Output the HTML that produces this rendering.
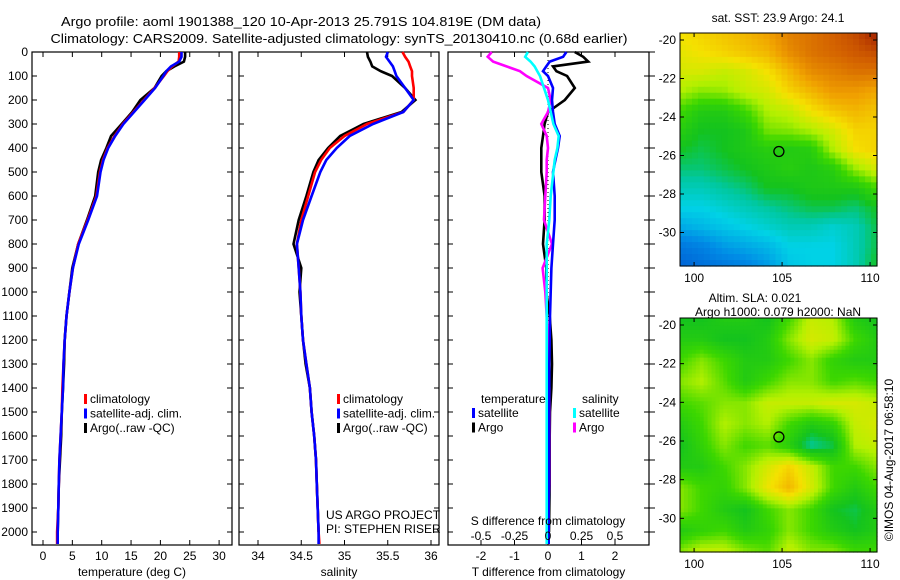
<!DOCTYPE html>
<html><head><meta charset="utf-8"><style>
html,body{margin:0;padding:0;background:#fff;}
svg{display:block;font-family:"Liberation Sans",sans-serif;}
text{font-size:12px;fill:#000;}
</style></head><body>
<svg id="chart" width="900" height="580" viewBox="0 0 900 580" xmlns="http://www.w3.org/2000/svg">
<text x="301" y="26" text-anchor="middle" textLength="480" lengthAdjust="spacingAndGlyphs" style="font-size:13px">Argo profile: aoml 1901388_120 10-Apr-2013 25.791S 104.819E (DM data)</text>
<text x="339" y="43" text-anchor="middle" textLength="577" lengthAdjust="spacingAndGlyphs" style="font-size:13px">Climatology: CARS2009. Satellite-adjusted climatology: synTS_20130410.nc (0.68d earlier)</text>
<g id="panels"></g>
<g id="maps"></g>
<text transform="translate(893,460) rotate(-90)" text-anchor="middle">©IMOS 04-Aug-2017 06:58:10</text>
</svg>
<script>
// ---- data ----
const depths = [0,20,40,60,80,100,150,200,250,300,350,400,450,500,600,700,800,900,1000,1100,1200,1300,1400,1500,1600,1700,1800,1900,2000,2050];
const tempClim = [23.2,23.2,23.1,22.0,21.2,20.6,19.0,17.2,15.4,13.6,12.2,11.0,10.2,9.7,9.1,7.6,6.0,5.1,4.5,4.0,3.7,3.5,3.3,3.2,3.0,2.8,2.7,2.6,2.4,2.4];
const tempSat = [23.6,23.6,23.2,21.8,21.0,20.5,19.1,17.3,15.5,13.7,12.3,11.1,10.3,9.8,9.2,7.7,6.1,5.1,4.5,4.0,3.7,3.5,3.4,3.2,3.0,2.8,2.7,2.6,2.5,2.5];
const tempArgo = [24.2,24.2,24.0,22.4,21.0,20.2,19.0,16.6,15.2,13.4,11.6,10.8,9.9,9.4,8.9,7.5,6.0,5.0,4.5,4.0,3.7,3.6,3.4,3.2,3.1,2.9,2.7,2.6,2.5,null];
const salClim = [35.67,35.7,35.74,35.76,35.78,35.78,35.8,35.8,35.68,35.26,35.0,34.83,34.73,34.66,34.58,34.5,34.45,34.47,34.49,34.5,34.52,34.56,34.6,34.62,34.65,34.67,34.68,34.69,34.7,34.71];
const salSat = [35.5,35.48,35.52,35.56,35.58,35.6,35.7,35.8,35.68,35.33,35.06,34.91,34.79,34.72,34.62,34.52,34.45,34.47,34.49,34.5,34.52,34.56,34.6,34.62,34.65,34.67,34.68,34.69,34.7,34.7];
const salArgo = [35.26,35.27,35.3,35.32,35.42,35.55,35.7,35.82,35.66,35.22,34.95,34.81,34.7,34.64,34.56,34.47,34.41,34.5,34.48,34.5,34.52,34.55,34.6,34.62,34.65,34.67,34.68,34.69,34.7,null];
const dTsat = [0.55,0.45,0.05,-0.05,-0.15,0.0,0.15,0.12,0.15,0.2,0.35,0.3,0.22,0.15,0.2,0.2,0.15,0.1,0.08,0.06,0.05,0.04,0.04,0.03,0.03,0.03,0.03,0.02,0.02,0.02];
const dTargo = [0.8,1.05,1.2,0.15,0.25,0.57,0.8,0.5,0.0,-0.1,-0.15,-0.2,-0.2,-0.2,-0.1,-0.1,-0.15,-0.05,-0.05,0.05,0.1,0.12,0.1,0.06,0.05,0.05,0.05,0.04,0.03,null];
const dSsat = [-0.15,-0.17,-0.13,-0.1,-0.08,-0.06,-0.03,0.0,0.02,0.04,0.08,0.07,0.05,0.04,0.02,0.01,-0.01,-0.01,-0.01,-0.01,-0.01,-0.01,-0.01,-0.01,-0.01,-0.01,-0.01,-0.01,-0.01,-0.01];
const dSargo = [-0.42,-0.45,-0.41,-0.31,-0.21,-0.16,0.0,0.02,0.0,-0.05,-0.01,0.0,-0.01,-0.01,-0.02,-0.03,0.03,-0.04,-0.02,-0.01,0.0,0.0,0.01,0.01,0.01,0.01,0.01,0.0,0.0,null];
const depthTicks = [0,100,200,300,400,500,600,700,800,900,1000,1100,1200,1300,1400,1500,1600,1700,1800,1900,2000];
const tempTicks = [0,5,10,15,20,25,30];
const salTicks = [34,34.5,35,35.5,36];
const dTTicks = [-2,-1,0,1,2];
const dSTicks = [-0.5,-0.25,0,0.25,0.5];
const dSTickLabels = ["-0.5","-0.25","0","0.25","0.5"];
const sstGrid = [
[.66,.68,.7,.72,.75,.8,.82,.85,.88,.95],
[.64,.66,.68,.7,.72,.78,.82,.84,.86,.88],
[.62,.62,.6,.62,.66,.72,.78,.8,.82,.82],
[.58,.55,.56,.6,.62,.68,.72,.76,.76,.74],
[.5,.45,.45,.5,.58,.6,.66,.7,.72,.7],
[.46,.42,.42,.44,.54,.55,.58,.62,.68,.68],
[.42,.4,.42,.44,.46,.45,.46,.58,.66,.68],
[.38,.38,.4,.42,.44,.46,.44,.46,.56,.62],
[.34,.34,.36,.38,.42,.42,.44,.44,.44,.5],
[.3,.3,.32,.34,.36,.38,.4,.4,.38,.42],
[.24,.26,.28,.3,.32,.34,.34,.32,.34,.4],
[.16,.18,.22,.24,.26,.3,.3,.3,.34,.4],
[.12,.14,.16,.18,.22,.28,.3,.3,.34,.42]];
const slaGrid = [
[.42,.42,.45,.45,.42,.5,.6,.58,.45,.42],
[.45,.45,.42,.42,.45,.55,.62,.6,.5,.45],
[.5,.55,.5,.45,.45,.5,.55,.48,.45,.45],
[.55,.58,.52,.45,.5,.55,.55,.5,.52,.5],
[.5,.52,.55,.55,.6,.6,.6,.62,.62,.6],
[.45,.5,.58,.55,.58,.5,.45,.48,.6,.62],
[.42,.48,.55,.5,.52,.46,.36,.4,.58,.6],
[.45,.45,.5,.55,.62,.68,.6,.5,.5,.55],
[.55,.5,.48,.55,.65,.72,.62,.5,.45,.5],
[.55,.5,.45,.42,.5,.55,.5,.42,.4,.45],
[.45,.48,.5,.45,.48,.55,.5,.45,.42,.45],
[.55,.6,.6,.55,.52,.6,.55,.55,.5,.5]];
const lonTicks = [100,105,110];
const latTicks = [-20,-22,-24,-26,-28,-30];
const argoLon = 104.819, argoLat = -25.791;

const NS = "http://www.w3.org/2000/svg";
function mk(tag, attrs, parent){const e=document.createElementNS(NS,tag);for(const k in attrs)e.setAttribute(k,attrs[k]);parent.appendChild(e);return e;}
const P = document.getElementById('panels');
const TOP=52, BOT=545;
const yD = d => TOP + d*0.24;

function panel(name, x0, x1, xs, ticks, tickLabels, xlabel){
  const g = mk('g',{},P);
  
  
  const r = mk('rect',{x:x0,y:TOP,width:x1-x0,height:BOT-TOP,fill:'none',stroke:'#000','stroke-width':1.2},g);
  
  
  ticks.forEach((t,i)=>{
    const x = xs(t);
    mk('line',{x1:x,x2:x,y1:TOP,y2:TOP+5,stroke:'#000'},g);
    mk('line',{x1:x,x2:x,y1:BOT,y2:BOT-5,stroke:'#000'},g);
    if(tickLabels){
      const tx = mk('text',{x:x,y:560,'text-anchor':'middle'},g);
      tx.textContent = tickLabels[i];
      
      
    }
  });
  depthTicks.forEach(d=>{
    mk('line',{x1:x0,x2:x0+5,y1:yD(d),y2:yD(d),stroke:'#000'},g);
    mk('line',{x1:x1,x2:x1-5,y1:yD(d),y2:yD(d),stroke:'#000'},g);
  });
  if(xlabel){
    const t = mk('text',{x:(x0+x1)/2,y:576,'text-anchor':'middle'},g);
    t.textContent = xlabel;
    
    
  }
  return g;
}
function line(g, vals, xs, color, name){
  let pts=[];
  vals.forEach((v,i)=>{ if(v!==null) pts.push(xs(v).toFixed(1)+','+yD(depths[i]).toFixed(1)); });
  const l = mk('polyline',{points:pts.join(' '),fill:'none',stroke:color,'stroke-width':2.6,'stroke-linejoin':'miter'},g);
  
  
}
function legend(g, x, y, items){
  items.forEach((it,i)=>{
    mk('rect',{x:x,y:y+i*14.5-9,width:3,height:10,fill:it[0]},g);
    const t = mk('text',{x:x+6,y:y+i*14.5},g);
    t.textContent = it[1];
    
    
  });
}
const xT = t => 43 + t*5.87;
const g1 = panel('temperature-panel',32,232,xT,tempTicks,tempTicks.map(String),'temperature (deg C)');
depthTicks.forEach(d=>{
  const t = mk('text',{x:28,y:yD(d)+4,'text-anchor':'end'},g1);
  t.textContent = d;
  
  
});
line(g1,tempArgo,xT,'#000','temp-argo-line');
line(g1,tempClim,xT,'#f00','temp-clim-line');
line(g1,tempSat,xT,'#00f','temp-sat-line');
legend(g1,84,403,[['#f00','climatology'],['#00f','satellite-adj. clim.'],['#000','Argo(..raw -QC)']]);
const xS = s => 258 + (s-34)*86.5;
const g2 = panel('salinity-panel',239,439,xS,salTicks,salTicks.map(String),'salinity');
line(g2,salArgo,xS,'#000','sal-argo-line');
line(g2,salClim,xS,'#f00','sal-clim-line');
line(g2,salSat,xS,'#00f','sal-sat-line');
legend(g2,337,403,[['#f00','climatology'],['#00f','satellite-adj. clim.'],['#000','Argo(..raw -QC)']]);
let t1 = mk('text',{x:326,y:519},g2); t1.textContent='US ARGO PROJECT';


let t2 = mk('text',{x:326,y:533},g2); t2.textContent='PI: STEPHEN RISER';


const xdT = v => 548 + v*33.5;
const xdS = v => 548 + v*134;
const g3 = panel('difference-panel',448,649,xdT,dTTicks,dTTicks.map(String),'T difference from climatology');
depthTicks.forEach(d=>{ mk('line',{x1:649,x2:655,y1:yD(d),y2:yD(d),stroke:'#000'},g3); });
mk('line',{x1:548,x2:548,y1:TOP,y2:BOT,stroke:'#000','stroke-dasharray':'1,3'},g3);
line(g3,dTargo,xdT,'#000','dT-argo-line');
line(g3,dSargo,xdS,'#f0f','dS-argo-line');
line(g3,dTsat,xdT,'#00f','dT-sat-line');
line(g3,dSsat,xdS,'#0ff','dS-sat-line');
let lt = mk('text',{x:481,y:403},g3); lt.textContent='temperature';


let ls = mk('text',{x:582,y:403},g3); ls.textContent='salinity';


legend(g3,472,417,[['#00f','satellite'],['#000','Argo']]);
legend(g3,573,417,[['#0ff','satellite'],['#f0f','Argo']]);
let sl = mk('text',{x:548,y:525,'text-anchor':'middle'},g3); sl.textContent='S difference from climatology';


dSTicks.forEach((v,i)=>{
  const t = mk('text',{x:xdS(v),y:540,'text-anchor':'middle'},g3);
  t.textContent = dSTickLabels[i];
  
  
});

const M = document.getElementById('maps');
const stops = [[0,[0,40,190]],[.2,[0,140,230]],[.3,[0,210,230]],[.36,[0,200,160]],[.42,[20,195,30]],[.5,[60,215,0]],[.58,[180,240,0]],[.66,[245,225,0]],[.75,[240,160,0]],[.85,[210,95,0]],[1,[140,0,0]]];
function cmap(v){
  v=Math.max(0,Math.min(1,v));
  for(let i=1;i<stops.length;i++){ if(v<=stops[i][0]){const a=stops[i-1],b=stops[i];const f=(v-a[0])/(b[0]-a[0]);
    return 'rgb('+a[1].map((c,k)=>Math.round(c+(b[1][k]-c)*f)).join(',')+')';}}
  return 'rgb(140,0,0)';
}
function interp(grid,fx,fy){
  const R=grid.length-1,C=grid[0].length-1;
  const x=fx*C,y=fy*R;const i=Math.min(Math.floor(y),R-1),j=Math.min(Math.floor(x),C-1);
  const u=x-j,w=y-i;
  return grid[i][j]*(1-u)*(1-w)+grid[i][j+1]*u*(1-w)+grid[i+1][j]*(1-u)*w+grid[i+1][j+1]*u*w;
}
function map(name, top, bot, grid, cell, titles){
  const g = mk('g',{},M);
  
  
  const x0=680,x1=877,W=x1-x0,H=bot-top;
  const nx=Math.ceil(W/cell), ny=Math.ceil(H/cell);
  for(let r=0;r<ny;r++)for(let c=0;c<nx;c++){
    const v=interp(grid,(c+0.5)/nx,(r+0.5)/ny);
    mk('rect',{x:x0+c*W/nx,y:top+r*H/ny,width:W/nx+0.6,height:H/ny+0.6,fill:cmap(v)},g);
  }
  const lonX = lon => x0 + (lon-99.2)*17.6;
  const latY = lat => top + 7 + (-20-lat)*19.25*(H/233);
  mk('rect',{x:x0,y:top,width:W,height:H,fill:'none',stroke:'#000','stroke-width':1},g);
  lonTicks.forEach(l=>{
    mk('line',{x1:lonX(l),x2:lonX(l),y1:top,y2:top+4,stroke:'#000'},g);
    mk('line',{x1:lonX(l),x2:lonX(l),y1:bot,y2:bot-4,stroke:'#000'},g);
    const t=mk('text',{x:lonX(l),y:bot+16,'text-anchor':'middle'},g); t.textContent=l;
    
    
  });
  latTicks.forEach(l=>{
    mk('line',{x1:x0,x2:x0+4,y1:latY(l),y2:latY(l),stroke:'#000'},g);
    mk('line',{x1:x1,x2:x1-4,y1:latY(l),y2:latY(l),stroke:'#000'},g);
    const t=mk('text',{x:x0-4,y:latY(l)+4,'text-anchor':'end'},g); t.textContent=l;
    
    
  });
  const c=mk('circle',{cx:lonX(argoLon),cy:latY(argoLat),r:5,fill:'none',stroke:'#000','stroke-width':1.3},g);
  
  
  titles.forEach(tt=>{
    const t=mk('text',{x:tt[0],y:tt[1],'text-anchor':'middle'},g); t.textContent=tt[2];
    
    
  });
}
map('sst-map',33,266,sstGrid,6,[[778,22,'sat. SST: 23.9 Argo: 24.1']]);
map('sla-map',318,552,slaGrid,4,[[755,302,'Altim. SLA: 0.021'],[778,316,'Argo h1000: 0.079 h2000: NaN']]);
</script>
</body></html>
